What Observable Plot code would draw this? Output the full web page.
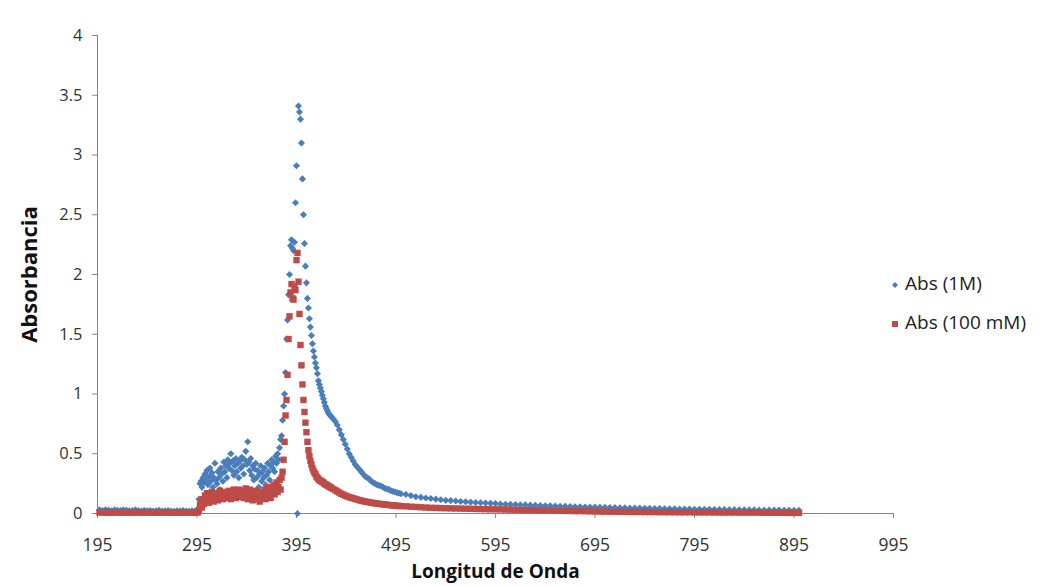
<!DOCTYPE html>
<html>
<head>
<meta charset="utf-8">
<script src="https://cdn.jsdelivr.net/npm/d3@7"></script>
<script src="https://cdn.jsdelivr.net/npm/@observablehq/plot@0.6"></script>
<style>
  html, body { margin: 0; padding: 0; background: #fff; }
  #wrap { position: relative; width: 1047px; height: 586px; }
  g[aria-label="x-axis label"] text, g[aria-label="y-axis label"] text {
    font-weight: bold; fill: #111;
  }
  g[aria-label="x-axis label"] { font-size: 19px; }
  g[aria-label="y-axis label"] { font-size: 22px; }
  g[aria-label="x-axis tick label"] { font-size: 17.5px; }
  .leg { position: absolute; left: 891px; font-family: "Open Sans", sans-serif; font-size: 19px; color: #222; white-space: nowrap; }
  .leg svg { vertical-align: middle; margin-right: 6px; }
</style>
</head>
<body>
<div id="wrap"></div>
<script>
// ---- wavelength grids (nm) ----
const wlBase  = d3.range(197, 295, 3);   // 197..293
const wlMid   = d3.range(295, 431, 1);   // 295..430
const wlDecay = d3.range(432, 501, 2);   // 432..500
const wlTail  = d3.range(505, 901, 5);   // 505..900

// ---- Abs (1M) ----
const abs1Base = [0.03,0.025,0.03,0.028,0.022,0.03,0.026,0.024,0.03,0.027,0.022,0.025,0.03,0.024,0.02,0.026,0.022,0.025,0.02,0.023,0.026,0.02,0.022,0.025,0.02,0.018,0.022,0.02,0.024,0.02,0.018,0.022,0.02];
const abs1Mid = [
  0.03,0.03,0.12,0.25,0.27,0.22,0.3,0.26,0.33,0.28,
  0.36,0.24,0.31,0.38,0.27,0.34,0.22,0.3,0.42,0.28,
  0.25,0.35,0.3,0.2,0.38,0.33,0.27,0.43,0.35,0.4,
  0.3,0.45,0.38,0.42,0.5,0.36,0.44,0.32,0.4,0.46,
  0.35,0.42,0.3,0.44,0.38,0.47,0.4,0.33,0.45,0.52,
  0.41,0.6,0.43,0.36,0.46,0.32,0.4,0.28,0.37,0.42,
  0.3,0.36,0.22,0.33,0.4,0.27,0.35,0.3,0.38,0.24,
  0.32,0.42,0.35,0.28,0.4,0.45,0.38,0.43,0.35,0.48,
  0.42,0.5,0.45,0.55,0.62,0.65,0.78,0.9,1.0,
  1.18,1.46,1.62,1.83,2.0,2.24,2.29,2.22,2.2,2.27,
  2.6,2.91,0.0,3.41,3.36,3.3,3.1,2.8,2.5,2.26,
  2.07,1.93,1.8,1.72,1.63,1.56,1.49,1.42,1.36,1.31,
  1.26,1.22,1.17,1.11,1.08,1.05,1.02,0.99,0.96,0.93,
  0.9,0.88,0.86,0.84,0.83,0.82,0.81
];
const abs1Decay = [0.79,0.77,0.74,0.7,0.66,0.62,0.58,0.54,0.5,0.47,
  0.44,0.41,0.39,0.37,0.35,0.33,0.31,0.3,0.29,0.27,
  0.26,0.25,0.24,0.235,0.23,0.22,0.21,0.205,0.2,0.19,
  0.185,0.18,0.175,0.17,0.165];
const abs1Tail = [0.16,0.15,0.14,0.135,0.13,0.125,0.12,0.115,0.11,0.108,
  0.105,0.1,0.098,0.095,0.092,0.09,0.088,0.085,0.083,0.08,
  0.078,0.076,0.075,0.073,0.072,0.07,0.068,0.067,0.065,0.064,
  0.062,0.061,0.06,0.058,0.057,0.056,0.055,0.054,0.053,0.052,
  0.051,0.05,0.049,0.048,0.047,0.046,0.045,0.045,0.044,0.043,
  0.042,0.041,0.04,0.04,0.039,0.038,0.038,0.037,0.036,0.036,
  0.035,0.035,0.034,0.033,0.033,0.032,0.032,0.031,0.031,0.03,
  0.03,0.029,0.029,0.028,0.028,0.028,0.027,0.027,0.026,0.026];

// ---- Abs (100 mM) ----
const abs2Base = [0.008,0.01,0.007,0.009,0.006,0.008,0.01,0.007,0.008,0.006,0.009,0.007,0.008,0.01,0.006,0.008,0.007,0.009,0.006,0.008,0.007,0.006,0.009,0.007,0.008,0.006,0.007,0.008,0.006,0.007,0.009,0.006,0.008];
const abs2Mid = [
  0.01,0.01,0.03,0.07,0.1,0.05,0.12,0.08,0.15,0.1,
  0.17,0.13,0.09,0.16,0.12,0.18,0.14,0.1,0.15,0.12,
  0.17,0.11,0.14,0.19,0.13,0.16,0.12,0.15,0.18,0.13,
  0.16,0.14,0.19,0.15,0.12,0.17,0.14,0.2,0.16,0.13,
  0.18,0.15,0.2,0.17,0.14,0.19,0.16,0.13,0.18,0.21,
  0.15,0.12,0.17,0.2,0.14,0.18,0.11,0.16,0.13,0.19,
  0.15,0.12,0.17,0.1,0.15,0.13,0.18,0.14,0.2,0.12,
  0.17,0.22,0.15,0.19,0.13,0.21,0.17,0.24,0.16,0.2,
  0.26,0.18,0.22,0.28,0.2,0.3,
  0.35,0.45,0.6,0.82,0.95,1.16,1.46,1.65,1.85,1.92,
  1.8,1.79,1.9,1.87,2.12,2.18,1.94,1.67,1.41,1.24,
  1.08,0.95,0.85,0.76,0.68,0.6,0.53,0.48,0.44,0.41,
  0.38,0.36,0.34,0.33,0.31,0.3,0.29,0.28,0.275,0.27,
  0.265,0.26,0.25,0.245,0.24,0.235,0.23,0.225,0.22,0.215
];
const abs2Decay = [0.205,0.195,0.185,0.175,0.165,0.158,0.15,0.143,0.137,0.132,
  0.127,0.122,0.117,0.112,0.108,0.104,0.1,0.097,0.094,0.091,
  0.088,0.086,0.083,0.081,0.079,0.077,0.075,0.073,0.071,0.069,
  0.067,0.066,0.064,0.063,0.062];
const abs2Tail = [0.06,0.057,0.055,0.052,0.05,0.048,0.047,0.045,0.044,0.043,
  0.042,0.041,0.04,0.039,0.038,0.037,0.036,0.035,0.035,0.034,
  0.033,0.032,0.031,0.03,0.03,0.029,0.028,0.027,0.026,0.025,
  0.024,0.023,0.022,0.021,0.02,0.02,0.019,0.018,0.017,0.016,
  0.016,0.015,0.015,0.014,0.014,0.013,0.013,0.013,0.012,0.012,
  0.012,0.011,0.011,0.011,0.01,0.01,0.01,0.01,0.009,0.009,
  0.009,0.009,0.008,0.008,0.008,0.008,0.008,0.007,0.007,0.007,
  0.007,0.007,0.006,0.006,0.006,0.006,0.006,0.005,0.005,0.005];

const xTicks = [195,295,395,495,595,695,795,895,995];
const yTicks = [0,0.5,1,1.5,2,2.5,3,3.5,4];
const seriesNames = ["Abs (1M)", "Abs (100 mM)"];
const colors = ["#4A7EBB", "#BE4B48"];

function build(wls, vals) {
  const out = [];
  wls.forEach((w, k) => w.forEach((x, i) => out.push({x, y: vals[k][i]})));
  return out;
}
const wlAll = [wlBase, wlMid, wlDecay, wlTail];
const s1 = build(wlAll, [abs1Base, abs1Mid, abs1Decay, abs1Tail]);
const s2 = build(wlAll, [abs2Base, abs2Mid, abs2Decay, abs2Tail]);

const chart = Plot.plot({
  width: 1047, height: 586,
  marginLeft: 97, marginRight: 154, marginTop: 35, marginBottom: 73,
  style: {fontFamily: "Open Sans, sans-serif", fontSize: "16.5px", color: "#333", background: "#fff"},
  x: {domain: [195, 995]},
  y: {domain: [0, 4]},
  marks: [
    Plot.ruleX([195], {stroke: "#868686"}),
    Plot.ruleY([0], {stroke: "#868686"}),
    Plot.axisX({ticks: xTicks, tickSize: 5, tickPadding: 20, stroke: "#868686", fill: "#333",
      tickFormat: d => String(d), label: "Longitud de Onda", labelAnchor: "center", labelArrow: "none", labelOffset: 64}),
    Plot.axisY({ticks: yTicks, tickSize: 5, tickPadding: 10, stroke: "#868686", fill: "#333",
      tickFormat: d => String(d), label: "Absorbancia", labelAnchor: "center", labelArrow: "none", labelOffset: 76}),
    Plot.dot(s1, {x: "x", y: "y", symbol: "diamond2", r: 3.2, fill: colors[0], stroke: null}),
    Plot.dot(s2, {x: "x", y: "y", symbol: "square", r: 3.6, fill: colors[1], stroke: null})
  ]
});
const wrap = document.getElementById("wrap");
wrap.appendChild(chart);

// legend
const legTops = [270, 309];
seriesNames.forEach((name, i) => {
  const d = document.createElement("div");
  d.className = "leg";
  d.style.top = legTops[i] + "px";
  const mk = i === 0
    ? `<svg width="8" height="8"><path d="M4,1L7,4L4,7L1,4Z" fill="${colors[0]}"/></svg>`
    : `<svg width="8" height="8"><rect x="1" y="1" width="6" height="6" fill="${colors[1]}"/></svg>`;
  d.innerHTML = mk + name;
  wrap.appendChild(d);
});
</script>
</body>
</html>
